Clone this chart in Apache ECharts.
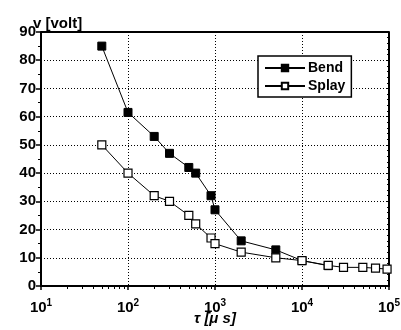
<!DOCTYPE html>
<html>
<head>
<meta charset="utf-8">
<script src="https://cdn.jsdelivr.net/npm/echarts@6/dist/echarts.min.js"></script>
<style>
  html, body { margin: 0; padding: 0; background: #fff; }
  #chart { width: 401px; height: 330px; }
</style>
</head>
<body>
<div id="chart"></div>
<script>
// tau in microseconds, voltage in volt
const bendTau = [50, 100, 200, 300, 500, 600, 900, 1000, 2000, 5000, 10000, 20000]
const bendV = [85, 61.5, 53, 47, 42, 40, 32, 27, 16, 12.8, 9, 7.2]
const splayTau = [50, 100, 200, 300, 500, 600, 900, 1000, 2000, 5000, 10000, 20000, 30000, 50000, 70000, 95000]
const splayV = [50, 40, 32, 30, 25, 22, 17, 15, 12, 10, 9, 7.3, 6.6, 6.6, 6.3, 6]
const minorTau = [20, 30, 40, 50, 60, 70, 80, 90, 200, 300, 400, 500, 600, 700, 800, 900,
  2000, 3000, 4000, 5000, 6000, 7000, 8000, 9000, 20000, 30000, 40000, 50000, 60000, 70000, 80000, 90000]

const chart = echarts.init(document.getElementById('chart'))
const font = 'Liberation Sans, Arial, sans-serif'
const zip = (xs, ys) => xs.map((x, i) => [x, ys[i]])

chart.setOption({
  animation: false,
  grid: { left: 41, right: 12, top: 32, bottom: 44, outerBoundsMode: 'none' },
  legend: {
    orient: 'vertical',
    left: 258,
    top: 56,
    width: 93,
    padding: [5, 6, 4, 6],
    itemGap: 4,
    itemWidth: 40,
    itemHeight: 8,
    backgroundColor: '#fff',
    borderColor: '#000',
    borderWidth: 1.5,
    borderRadius: 0,
    textStyle: { color: '#000', fontFamily: font, fontWeight: 'bold', fontSize: 14, padding: [0, 0, 0, -2] },
    data: ['Bend', 'Splay'],
  },
  xAxis: [
    {
      type: 'log',
      logBase: 10,
      min: 10,
      max: 100000,
      name: 'τ [μ s]',
      nameLocation: 'middle',
      nameGap: 25,
      nameMoveOverlap: false,
      nameTextStyle: { color: '#000', fontFamily: font, fontWeight: 'bold', fontStyle: 'italic', fontSize: 15 },
      axisLine: { onZero: false, lineStyle: { color: '#000', width: 2 } },
      axisTick: { length: 4, lineStyle: { color: '#000', width: 1.5 } },
      axisLabel: {
        margin: 10,
        color: '#000',
        fontFamily: font,
        fontWeight: 'bold',
        fontSize: 15,
        formatter: v => '{b|10}{s|' + Math.round(Math.log10(v)) + '}',
        rich: {
          b: { fontFamily: font, fontWeight: 'bold', fontSize: 15, lineHeight: 18, padding: [6, 0, 0, 0] },
          s: { fontFamily: font, fontWeight: 'bold', fontSize: 10, lineHeight: 12, padding: [0, 0, 4, 0] },
        },
      },
      splitLine: { show: true, lineStyle: { color: '#000', type: [1, 2], width: 1 } },
    },
    {
      type: 'log',
      logBase: 10,
      min: 10,
      max: 100000,
      position: 'bottom',
      axisLine: { show: false },
      axisTick: { show: true, length: 3, customValues: minorTau, lineStyle: { color: '#000', width: 1 } },
      axisLabel: { show: false },
      splitLine: { show: false },
    },
  ],
  yAxis: [
    {
      type: 'value',
      min: 0,
      max: 90,
      interval: 10,
      name: 'v [volt]',
      nameLocation: 'end',
      nameGap: 1,
      nameMoveOverlap: false,
      nameTextStyle: { color: '#000', fontFamily: font, fontWeight: 'bold', fontSize: 15, align: 'left', padding: [0, 0, 0, -8] },
      axisLine: { show: true, lineStyle: { color: '#000', width: 2 } },
      axisTick: { show: true, length: 5, lineStyle: { color: '#000', width: 1.5 } },
      minorTick: { show: true, splitNumber: 2, length: 3, lineStyle: { color: '#000', width: 1 } },
      axisLabel: { margin: 5, color: '#000', fontFamily: font, fontWeight: 'bold', fontSize: 15 },
      splitLine: { show: true, lineStyle: { color: '#000', type: [1, 2], width: 1 } },
    },
    {
      type: 'value',
      min: 0,
      max: 90,
      interval: 10,
      position: 'right',
      axisLine: { show: true, lineStyle: { color: '#000', width: 2 } },
      axisTick: { show: true, inside: true, length: 3, lineStyle: { color: '#000' } },
      minorTick: { show: true, splitNumber: 5, length: 2, lineStyle: { color: '#000' } },
      axisLabel: { show: false },
      splitLine: { show: false },
    },
  ],
  graphic: [
    { type: 'line', shape: { x1: 41, y1: 32, x2: 389, y2: 32 }, style: { stroke: '#000', lineWidth: 2 } },
  ],
  series: [
    {
      name: 'Bend',
      type: 'line',
      data: zip(bendTau, bendV),
      symbol: 'rect',
      symbolSize: 8,
      lineStyle: { color: '#000', width: 1 },
      itemStyle: { color: '#000', borderColor: '#000', borderWidth: 1 },
    },
    {
      name: 'Splay',
      type: 'line',
      data: zip(splayTau, splayV),
      symbol: 'rect',
      symbolSize: 8,
      lineStyle: { color: '#000', width: 1 },
      itemStyle: { color: '#fff', borderColor: '#000', borderWidth: 1.2 },
    },
  ],
})
</script>
</body>
</html>
